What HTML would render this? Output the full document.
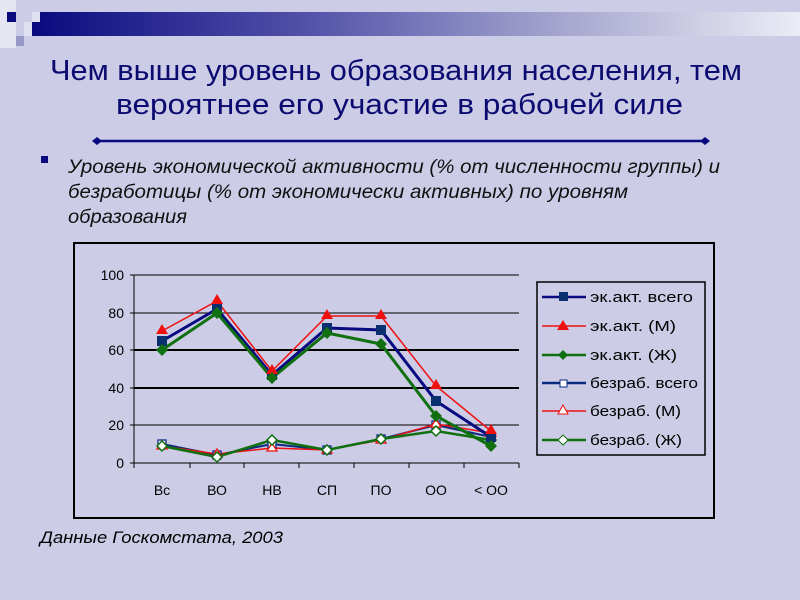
<!DOCTYPE html>
<html><head><meta charset="utf-8"><style>
body{margin:0;width:800px;height:600px;overflow:hidden;background:#CCCCE6;}
svg{display:block}
</style></head><body>
<svg width="800" height="600" xmlns="http://www.w3.org/2000/svg" font-family="Liberation Sans, sans-serif">
<defs>
<linearGradient id="g" x1="0" x2="1" y1="0" y2="0">
<stop offset="0" stop-color="#0A0A80"/><stop offset="0.35" stop-color="#5050A8"/><stop offset="0.7" stop-color="#A8A8D0"/><stop offset="1" stop-color="#ECECF6"/>
</linearGradient>
</defs>
<rect width="800" height="600" fill="#CCCCE6"/>
<rect x="0" y="0" width="16" height="48" fill="#E6E6F2"/>
<rect x="7" y="12" width="9" height="10" fill="#0A0A80"/>
<rect x="16" y="36" width="8" height="10" fill="#9898C8"/>
<rect x="24" y="22" width="8" height="14" fill="#E0E0F0"/>
<rect x="32" y="12" width="768" height="24" fill="url(#g)"/>
<rect x="32" y="12" width="8" height="10" fill="#E0E0F0"/>
<text x="50" y="80" font-size="29" fill="#0A0A70" textLength="692" lengthAdjust="spacingAndGlyphs">Чем выше уровень образования населения, тем</text>
<text x="116" y="114" font-size="29" fill="#0A0A70" textLength="567" lengthAdjust="spacingAndGlyphs">вероятнее его участие в рабочей силе</text>
<line x1="97" y1="141" x2="705" y2="141" stroke="#0A0A80" stroke-width="2.5"/>
<path d="M92 141l5-4 5 4-5 4z M700 141l5-4 5 4-5 4z" fill="#0A0A80"/>
<rect x="41" y="156" width="7" height="7" fill="#0A0A80"/>
<g font-size="19" font-style="italic" fill="#111">
<text x="68" y="173" textLength="652" lengthAdjust="spacingAndGlyphs">Уровень экономической активности (% от численности группы) и</text>
<text x="68" y="198" textLength="560" lengthAdjust="spacingAndGlyphs">безработицы (% от экономически активных) по уровням</text>
<text x="68" y="223" textLength="119" lengthAdjust="spacingAndGlyphs">образования</text>
</g>
<rect x="74" y="243" width="640" height="275" fill="#CCCCE6" stroke="#000" stroke-width="2"/>
<g stroke="#000" stroke-width="1">
<line x1="134" y1="275" x2="519" y2="275"/>
<line x1="134" y1="313" x2="519" y2="313"/>
<line x1="134" y1="350" x2="519" y2="350" stroke-width="2"/>
<line x1="134" y1="388" x2="519" y2="388" stroke-width="2"/>
<line x1="134" y1="425" x2="519" y2="425"/>
<line x1="134" y1="463" x2="519" y2="463"/>
<line x1="134" y1="275" x2="134" y2="463"/>
<line x1="130" y1="275" x2="134" y2="275"/><line x1="130" y1="313" x2="134" y2="313"/><line x1="130" y1="350" x2="134" y2="350"/><line x1="130" y1="388" x2="134" y2="388"/><line x1="130" y1="425" x2="134" y2="425"/><line x1="130" y1="463" x2="134" y2="463"/>
<line x1="134" y1="463" x2="134" y2="468"/><line x1="190" y1="463" x2="190" y2="468"/><line x1="244" y1="463" x2="244" y2="468"/><line x1="299" y1="463" x2="299" y2="468"/><line x1="354" y1="463" x2="354" y2="468"/><line x1="409" y1="463" x2="409" y2="468"/><line x1="464" y1="463" x2="464" y2="468"/><line x1="519" y1="463" x2="519" y2="468"/>
</g>
<g font-size="14" fill="#000" text-anchor="end">
<text x="124" y="280">100</text><text x="124" y="318">80</text><text x="124" y="355">60</text><text x="124" y="393">40</text><text x="124" y="430">20</text><text x="124" y="468">0</text>
</g>
<g font-size="14" fill="#000" text-anchor="middle">
<text x="162" y="495">Вс</text><text x="217" y="495">ВО</text><text x="272" y="495">НВ</text><text x="327" y="495">СП</text><text x="381" y="495">ПО</text><text x="436" y="495">ОО</text><text x="491" y="495">&lt; ОО</text>
</g>
<!-- unemployment -->
<polyline points="162,444 217,455 272,444 327,450 381,439 436,425 491,437" fill="none" stroke="#0A2A80" stroke-width="2"/>
<polyline points="162,446 217,454 272,448 327,450 381,440 436,424 491,433" fill="none" stroke="#F01010" stroke-width="1.5"/>
<polyline points="162,446 217,457 272,440 327,450 381,439 436,431 491,440" fill="none" stroke="#107010" stroke-width="2.5"/>
<g fill="#fff" stroke="#0A2A80" stroke-width="1.3">
<rect x="158" y="440" width="8" height="8"/><rect x="213" y="451" width="8" height="8"/><rect x="268" y="440" width="8" height="8"/><rect x="323" y="446" width="8" height="8"/><rect x="377" y="435" width="8" height="8"/><rect x="432" y="421" width="8" height="8"/><rect x="487" y="433" width="8" height="8"/>
</g>
<g fill="#fff" stroke="#F01010" stroke-width="1.3">
<path d="M162 441l5 8h-10z"/><path d="M217 449l5 8h-10z"/><path d="M272 443l5 8h-10z"/><path d="M327 445l5 8h-10z"/><path d="M381 435l5 8h-10z"/><path d="M436 419l5 8h-10z"/><path d="M491 428l5 8h-10z"/>
</g>
<g fill="#fff" stroke="#107010" stroke-width="1.5">
<path d="M162 441l5 5-5 5-5-5z"/><path d="M217 452l5 5-5 5-5-5z"/><path d="M272 435l5 5-5 5-5-5z"/><path d="M327 445l5 5-5 5-5-5z"/><path d="M381 434l5 5-5 5-5-5z"/><path d="M436 426l5 5-5 5-5-5z"/><path d="M491 435l5 5-5 5-5-5z"/>
</g>
<!-- activity -->
<polyline points="162,331 217,301 272,371 327,316 381,316 436,386 491,431" fill="none" stroke="#F01010" stroke-width="1.5"/>
<polyline points="162,341 217,309 272,375 327,328 381,330 436,401 491,437" fill="none" stroke="#0A0A80" stroke-width="3"/>
<polyline points="162,350 217,313 272,378 327,333 381,344 436,416 491,446" fill="none" stroke="#107010" stroke-width="3"/>
<g fill="#0A3070">
<rect x="157" y="336" width="10" height="10"/><rect x="212" y="304" width="10" height="10"/><rect x="267" y="370" width="10" height="10"/><rect x="322" y="323" width="10" height="10"/><rect x="376" y="325" width="10" height="10"/><rect x="431" y="396" width="10" height="10"/><rect x="486" y="432" width="10" height="10"/>
</g>
<g fill="#F01010">
<path d="M162 324l6 10h-12z"/><path d="M217 294l6 10h-12z"/><path d="M272 364l6 10h-12z"/><path d="M327 309l6 10h-12z"/><path d="M381 309l6 10h-12z"/><path d="M436 379l6 10h-12z"/><path d="M491 424l6 10h-12z"/>
</g>
<g fill="#107010">
<path d="M162 344l6 6-6 6-6-6z"/><path d="M217 307l6 6-6 6-6-6z"/><path d="M272 372l6 6-6 6-6-6z"/><path d="M327 327l6 6-6 6-6-6z"/><path d="M381 338l6 6-6 6-6-6z"/><path d="M436 410l6 6-6 6-6-6z"/><path d="M491 440l6 6-6 6-6-6z"/>
</g>
<!-- legend -->
<rect x="537" y="282" width="168" height="173" fill="#CCCCE6" stroke="#000" stroke-width="1.5"/>
<g stroke-width="2.5">
<line x1="542" y1="297" x2="586" y2="297" stroke="#0A0A80"/>
<line x1="542" y1="326" x2="586" y2="326" stroke="#F01010" stroke-width="1.5"/>
<line x1="542" y1="355" x2="586" y2="355" stroke="#107010"/>
<line x1="542" y1="383" x2="586" y2="383" stroke="#0A2A80"/>
<line x1="542" y1="411" x2="586" y2="411" stroke="#F01010" stroke-width="1.5"/>
<line x1="542" y1="440" x2="586" y2="440" stroke="#107010"/>
</g>
<rect x="559" y="292" width="9" height="9" fill="#0A3070"/>
<path d="M563 320l6 10h-12z" fill="#F01010"/>
<path d="M563 350l5 5-5 5-5-5z" fill="#107010"/>
<rect x="560" y="380" width="7" height="7" fill="#fff" stroke="#0A2A80"/>
<path d="M563 405l5 9h-10z" fill="#fff" stroke="#F01010"/>
<path d="M563 435l5 5-5 5-5-5z" fill="#fff" stroke="#107010"/>
<g font-size="15" fill="#000">
<text x="590" y="302" textLength="103" lengthAdjust="spacingAndGlyphs">эк.акт. всего</text>
<text x="590" y="331" textLength="86" lengthAdjust="spacingAndGlyphs">эк.акт. (М)</text>
<text x="590" y="360" textLength="87" lengthAdjust="spacingAndGlyphs">эк.акт. (Ж)</text>
<text x="590" y="388" textLength="108" lengthAdjust="spacingAndGlyphs">безраб. всего</text>
<text x="590" y="416" textLength="91" lengthAdjust="spacingAndGlyphs">безраб. (М)</text>
<text x="590" y="445" textLength="92" lengthAdjust="spacingAndGlyphs">безраб. (Ж)</text>
</g>
<text x="40" y="543" font-size="17" font-style="italic" fill="#000" textLength="243" lengthAdjust="spacingAndGlyphs">Данные Госкомстата, 2003</text>
</svg>
</body></html>
